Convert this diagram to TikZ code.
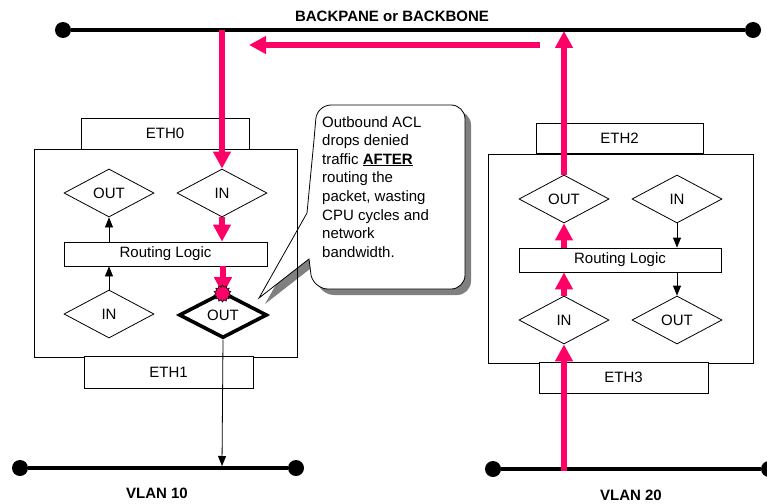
\documentclass[tikz,border=0pt]{standalone}
\usepackage{fontspec}
\setmainfont{Liberation Sans}
\usetikzlibrary{shapes.geometric,arrows.meta}
\definecolor{hot}{RGB}{255,0,102}
\definecolor{shadowgray}{RGB}{128,128,128}
\begin{document}
\begin{tikzpicture}[x=1pt,y=-1pt,
  lbl/.style={font=\fontsize{15}{18}\selectfont},
  blbl/.style={font=\fontsize{15}{18}\selectfont\bfseries},
  ethbox/.style={draw, line width=0.8pt, fill=white, inner sep=0pt, lbl},
  router/.style={draw, line width=0.8pt, inner sep=0pt},
  logicbox/.style={draw, line width=0.8pt, fill=white, minimum height=24pt, inner sep=0pt, lbl},
  port/.style={diamond, draw, line width=0.8pt, fill=white, minimum width=90pt, minimum height=48pt, inner sep=0pt, lbl},
  boldport/.style={port, line width=3.6pt, minimum width=88pt, minimum height=46pt},
  bus/.style={line width=4pt},
  busdot/.style={circle, fill=black, inner sep=0pt, minimum size=16pt},
  hotarrow/.style={draw=hot, line width=5.5pt, -{Triangle[length=17pt,width=17pt]}},
  thinarrow/.style={line width=0.8pt, -{Triangle[length=10pt,width=8pt]}},
  burst/.style={star, star points=14, star point ratio=1.3, minimum size=17pt, inner sep=0pt, fill=hot, draw=black, line width=0.6pt},
]
\useasboundingbox (0,0) rectangle (767,503);

% callout with shadow
\fill[shadowgray, shift={(6,6)}] (307,213) -- (314,140) [rounded corners=14pt] -- (317,105) -- (465,105) -- (465,289) -- (314,289) [sharp corners] -- (311,275) -- (309,259) -- (259,298) -- cycle;
\filldraw[fill=white, draw=black, line width=0.8pt] (307,213) -- (314,140) [rounded corners=14pt] -- (317,105) -- (465,105) -- (465,289) -- (314,289) [sharp corners] -- (311,275) -- (309,259) -- (259,298) -- cycle;
\node[anchor=north west, inner sep=0pt, align=left, font=\fontsize{15}{18.6}\selectfont] (note) at (322,116)
  {Outbound ACL\\drops denied\\traffic \textbf{\underline{AFTER}}\\routing the\\packet, wasting\\CPU cycles and\\network\\bandwidth.};

% routers
\node[router, minimum width=263pt, minimum height=208pt] (routerL) at (165.5,253) {};
\node[router, minimum width=265pt, minimum height=209pt] (routerR) at (620.5,258.5) {};

\node[ethbox, minimum width=168pt, minimum height=31pt] (eth0) at (165,133.5) {ETH0};
\node[ethbox, minimum width=169pt, minimum height=32pt] (eth1) at (168.5,372) {ETH1};
\node[ethbox, minimum width=167pt, minimum height=30pt] (eth2) at (619.5,138) {ETH2};
\node[ethbox, minimum width=169pt, minimum height=31pt] (eth3) at (623.5,377.5) {ETH3};

% left router internals
\node[port] (outL1) at (109,193) {OUT};
\node[port] (inL1) at (222,193) {IN};
\node[logicbox, minimum width=203pt] (rlL) at (165.5,254) {Routing Logic};
\node[port] (inL2) at (109,314) {IN};
\node[boldport] (outL2) at (223,315) {OUT};

% right router internals
\node[port] (outR1) at (564,199) {OUT};
\node[port] (inR1) at (677,199) {IN};
\node[logicbox, minimum width=202pt] (rlR) at (620,260) {Routing Logic};
\node[port] (inR2) at (564,320) {IN};
\node[port] (outR2) at (677,320) {OUT};

% buses
\node[busdot] (bbL) at (63,30) {};
\node[busdot] (bbR) at (753,30) {};
\draw[bus] (bbL) -- (bbR);
\node[busdot] (v10L) at (20,468) {};
\node[busdot] (v10R) at (296,468) {};
\draw[bus] (v10L) -- (v10R);
\node[busdot] (v20L) at (493,469) {};
\node[busdot] (v20R) at (769,469) {};
\draw[bus] (v20L) -- (v20R);

\node[blbl] (title) at (392,16) {BACKPANE or BACKBONE};
\node[blbl] (vlan10) at (157,493) {VLAN 10};
\node[blbl] (vlan20) at (631,495) {VLAN 20};

% coordinates for free ends
\coordinate (bbA) at (222,30);
\coordinate (bbB) at (564,31);
\coordinate (hR) at (540,45);
\coordinate (hL) at (249,45);
\coordinate (v10A) at (222,466);
\coordinate (v20A) at (564,471);

% thin black flows
\draw[thinarrow] (inL2.north) -- (inL2.north |- rlL.south);
\draw[thinarrow] (outL1.south |- rlL.north) -- (outL1.south);
\draw[thinarrow] (outL2.south) -- (v10A);
\draw[thinarrow] (inR1.south) -- (inR1.south |- rlR.north);
\draw[thinarrow] (outR2.north |- rlR.south) -- (outR2.north);

% hot flows
\draw[hotarrow] (bbA) -- (inL1.north);
\draw[hotarrow] (inL1.south) -- (inL1.south |- rlL.north);
\draw[hotarrow] (outL2.north |- rlL.south) -- ([yshift=-4pt]outL2.north);
\draw[hotarrow] (hR) -- (hL);
\draw[hotarrow] (outR1.north) -- (bbB);
\draw[hotarrow] (outR1.south |- rlR.north) -- (outR1.south);
\draw[hotarrow] (inR2.north) -- (inR2.north |- rlR.south);
\draw[hotarrow] (v20A) -- (inR2.south);

\node[burst] (drop) at (222.5,293.5) {};
\end{tikzpicture}
\end{document}
